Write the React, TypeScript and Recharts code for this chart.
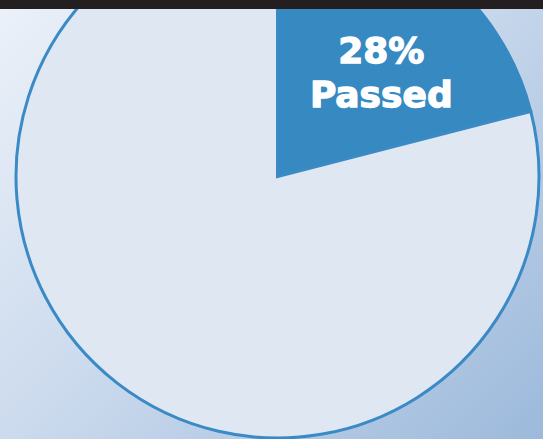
import React from "react";
import { PieChart, Pie, Cell } from "recharts";

const categories = ["Passed", "Other"];
const values = [21, 79];
const labelLines = ["28%", "Passed"];
const colors = ["#3789c2", "#dfe7f3"];

const data = categories.map((name, i) => ({ name, value: values[i] }));

const RAD = Math.PI / 180;

const renderLabel = (props: any) => {
  const { cx, cy, midAngle, outerRadius, index } = props;
  if (index !== 0) return null;
  const r = outerRadius * 0.53;
  const a = (midAngle - 10.7) * RAD;
  const x = cx + r * Math.cos(a);
  const y = cy - r * Math.sin(a);
  const common = {
    textAnchor: "middle" as const,
    fill: "#ffffff",
    stroke: "#ffffff",
    strokeWidth: 1.3,
    fontFamily: "DejaVu Sans",
    fontWeight: "bold",
    fontSize: 36,
  };
  return (
    <g>
      <text x={x} y={y - 22} {...common}>
        {labelLines[0]}
      </text>
      <text x={x} y={y + 22} {...common}>
        {labelLines[1]}
      </text>
    </g>
  );
};

export default function App() {
  return (
    <div
      style={{
        position: "absolute",
        left: 0,
        top: 0,
        width: 543,
        height: 439,
        overflow: "hidden",
        background: "linear-gradient(135deg, #ecf1f9 0%, #c8d8ec 50%, #9cb9db 100%)",
      }}
    >
      <PieChart
        width={543}
        height={439}
        margin={{ top: 0, right: 0, bottom: 0, left: 0 }}
        style={{ position: "absolute", left: 0, top: 0 }}
      >
        <Pie
          data={data}
          dataKey="value"
          nameKey="name"
          cx={277.5}
          cy={176.5}
          outerRadius={261.5}
          innerRadius={0}
          startAngle={90}
          endAngle={-270}
          stroke="#3a8ac6"
          strokeWidth={3}
          label={renderLabel}
          labelLine={false}
          isAnimationActive={false}
        >
          {data.map((d, i) => (
            <Cell key={d.name} fill={colors[i]} stroke={i === 0 ? colors[0] : "#3a8ac6"} />
          ))}
        </Pie>
      </PieChart>
      <div style={{ position: "absolute", left: 0, top: 0, width: 543, height: 9, background: "#231f20" }} />
    </div>
  );
}
